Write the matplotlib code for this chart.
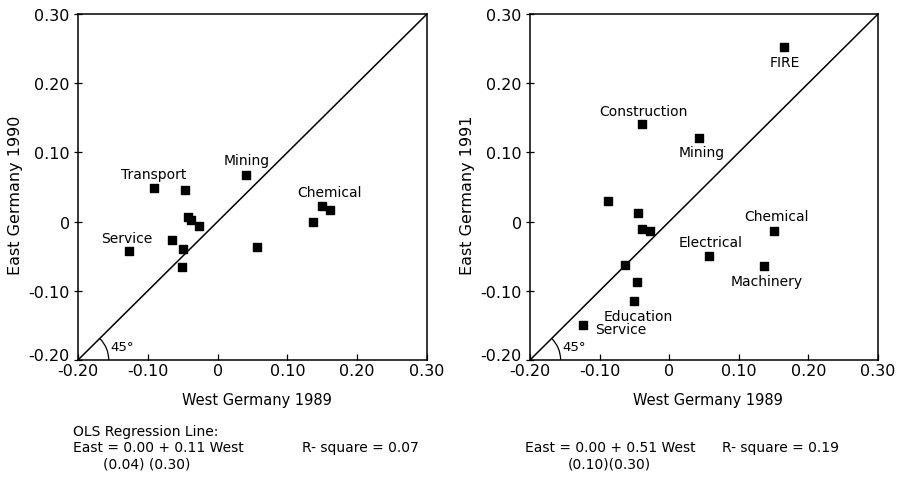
import numpy as np
import matplotlib.pyplot as plt
from matplotlib.patches import Arc
from matplotlib.transforms import ScaledTranslation

# ---- data ----
# left panel: East Germany 1990 vs West Germany 1989
west89_a = [-0.091, -0.047, 0.041, -0.042, -0.038, -0.026, -0.065,
            -0.049, -0.051, -0.127, 0.056, 0.150, 0.161, 0.137]
east90 = [0.048, 0.046, 0.067, 0.006, 0.003, -0.007, -0.026,
          -0.040, -0.065, -0.043, -0.037, 0.022, 0.017, -0.001]
labels_a = ["Transport", "", "Mining", "", "", "", "",
            "", "", "Service", "", "Chemical", "", ""]
# label offsets in points (dx, dy)
offs_a = [(0, 10), None, (0, 11), None, None, None, None,
          None, None, (-1.5, 9.5), None, (5, 10.5), None, None]

# right panel: East Germany 1991 vs West Germany 1989
west89_b = [0.165, -0.039, 0.043, -0.088, -0.045, -0.039, -0.027,
            0.151, 0.057, 0.136, -0.064, -0.046, -0.050, -0.124]
east91 = [0.252, 0.141, 0.121, 0.030, 0.013, -0.010, -0.013,
          -0.013, -0.049, -0.064, -0.062, -0.088, -0.115, -0.150]
labels_b = ["FIRE", "Construction", "Mining", "", "", "", "",
            "Chemical", "Electrical", "Machinery", "", "", "Education", "Service"]
offs_b = [(0.5, -11), (1, 9.5), (1.5, -10), None, None, None, None,
          (1.5, 10.5), (1, 10), (2, -11), None, None, (2.5, -10.5), (9, -2.5)]

ticks = [-0.20, -0.10, 0, 0.10, 0.20, 0.30]
tick_labels = ["-0.20", "-0.10", "0", "0.10", "0.20", "0.30"]

plt.rcParams['font.family'] = ['DejaVu Sans']

fig = plt.figure(figsize=(9.02, 4.81), dpi=100)
ax_a = fig.add_axes([78 / 902, 120 / 481, 349 / 902, 346 / 481])
ax_b = fig.add_axes([530 / 902, 120 / 481, 348 / 902, 346 / 481])


def draw_panel(ax, xs, ys, names, offs, ylabel, xlab_x):
    ax.set_xlim(-0.2, 0.3)
    ax.set_ylim(-0.2, 0.3)
    # 45 degree line
    ax.plot([-0.2, 0.3], [-0.2, 0.3], color="black", lw=1.1)
    ax.add_patch(Arc((-0.2, -0.2), 0.088, 0.088, theta1=0, theta2=45,
                     color="black", lw=0.9))
    ax.text(-0.154, -0.181, "45°", fontsize=9.5, va="center", ha="left")

    ax.scatter(xs, ys, marker="s", s=36, color="black", zorder=3)
    for x, y, name, off in zip(xs, ys, names, offs):
        if not name:
            continue
        ha = "left" if (ax is ax_b and name == "Service") else "center"
        ax.annotate(name, (x, y), xytext=off, textcoords="offset points",
                    ha=ha, va="center", fontsize=10)

    ax.set_xticks(ticks)
    ax.set_xticklabels(tick_labels)
    ax.set_yticks(ticks)
    ax.set_yticklabels(tick_labels)
    ax.tick_params(axis="x", direction="in", length=4, width=0.9,
                   labelsize=11.5, pad=2)
    ax.tick_params(axis="y", direction="inout", length=6, width=0.9,
                   labelsize=11.5, pad=3)
    # lift the bottom y label a little so it clears the x label
    lab = ax.get_yticklabels()[0]
    lab.set_transform(lab.get_transform() +
                      ScaledTranslation(0, 0.06, fig.dpi_scale_trans))
    for sp in ax.spines.values():
        sp.set_linewidth(1.1)
    ax.set_xlabel("West Germany 1989", fontsize=10.5, va="center")
    ax.xaxis.set_label_coords(xlab_x, -0.113)
    ax.set_ylabel(ylabel, fontsize=11.5, va="center")
    ax.yaxis.set_label_coords(-0.18, 0.48)


draw_panel(ax_a, west89_a, east90, labels_a, offs_a, "East Germany 1990", 0.513)
draw_panel(ax_b, west89_b, east91, labels_b, offs_b, "East Germany 1991", 0.510)

# regression notes under the panels
fs = 10
def px(x, y):
    return x / 902, 1 - y / 481

fig.text(*px(73, 432), "OLS Regression Line:", fontsize=fs, va="center")
fig.text(*px(73, 448), "East = 0.00 + 0.11 West", fontsize=fs, va="center")
fig.text(*px(302, 448), "R- square = 0.07", fontsize=fs, va="center")
fig.text(*px(103, 464), "(0.04) (0.30)", fontsize=fs, va="center")
fig.text(*px(525, 448), "East = 0.00 + 0.51 West", fontsize=fs, va="center")
fig.text(*px(722, 448), "R- square = 0.19", fontsize=fs, va="center")
fig.text(*px(568, 464), "(0.10)(0.30)", fontsize=fs, va="center")

fig.savefig("out.png", dpi=100)
